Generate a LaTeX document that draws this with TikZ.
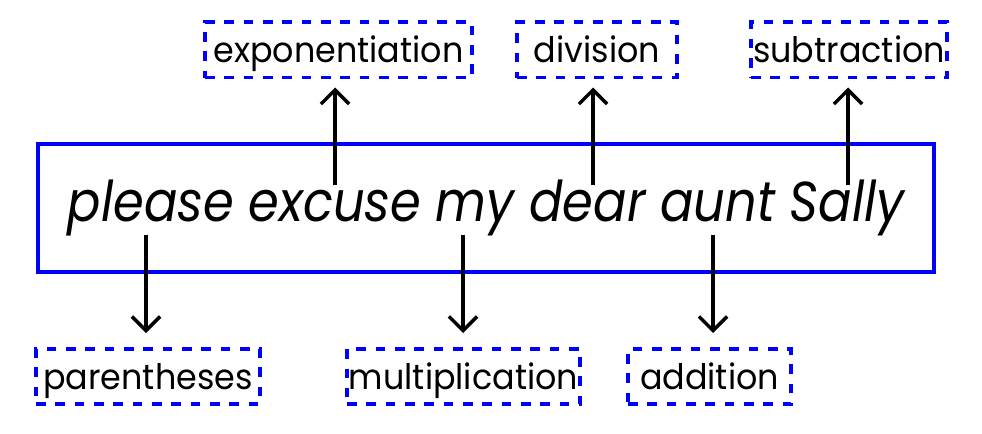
\documentclass[tikz,border=0pt]{standalone}
\usepackage{fontspec}
\setmainfont{Poppins}
\newfontfamily\phrasefont[FakeStretch=0.88]{Poppins}
\newfontfamily\opfont[FakeStretch=0.95]{Poppins}
\usetikzlibrary{arrows.meta}

\begin{document}
\begin{tikzpicture}[x=0.02cm, y=0.02cm,
	opbox/.style={shape=rectangle, draw=blue, line width=2pt, dash pattern={on 5.5pt off 5.5pt}, minimum height=1.11cm, inner sep=0pt, text height=0.62cm, text depth=0.12cm, font=\opfont\fontsize{20}{24}\selectfont},
	pointer/.style={line width=2pt, -{Straight Barb[length=8pt, width=16pt]}}]
	\useasboundingbox (0, 0) rectangle (982, 433);
	% Mnemonic phrase:
	\node[shape=rectangle, draw=blue, line width=2pt, minimum width=17.92cm, minimum height=2.56cm, inner sep=0pt, text height=0.92cm, text depth=0.38cm, font=\phrasefont\fontsize{32}{38}\selectfont\itshape] (phrase) at (486, 225) {please excuse my dear aunt Sally};
	% Operations, top row:
	\node[opbox, minimum width=5.34cm] (expo) at (338.5, 383) {exponentiation};
	\node[opbox, minimum width=3.2cm] (divi) at (597, 383) {division};
	\node[opbox, minimum width=3.92cm] (subt) at (849, 383) {subtraction};
	% Operations, bottom row:
	\node[opbox, minimum width=4.48cm] (paren) at (148, 56.5) {parentheses};
	\node[opbox, minimum width=4.66cm] (mult) at (463.5, 56.5) {multiplication};
	\node[opbox, minimum width=3.26cm] (addi) at (709.5, 56.5) {addition};
	% Arrow starts inside the phrase box:
	\coordinate (e) at (335, 248);
	\coordinate (d) at (593, 248);
	\coordinate (s) at (848, 248);
	\coordinate (p) at (146, 198);
	\coordinate (m) at (463, 198);
	\coordinate (a) at (713, 198);
	% Arrows:
	\draw[pointer, shorten >=0.16cm] (e) -- (e |- expo.south);
	\draw[pointer, shorten >=0.16cm] (d) -- (d |- divi.south);
	\draw[pointer, shorten >=0.16cm] (s) -- (s |- subt.south);
	\draw[pointer, shorten >=0.28cm] (p) -- (p |- paren.north);
	\draw[pointer, shorten >=0.28cm] (m) -- (m |- mult.north);
	\draw[pointer, shorten >=0.28cm] (a) -- (a |- addi.north);
\end{tikzpicture}
\end{document}
